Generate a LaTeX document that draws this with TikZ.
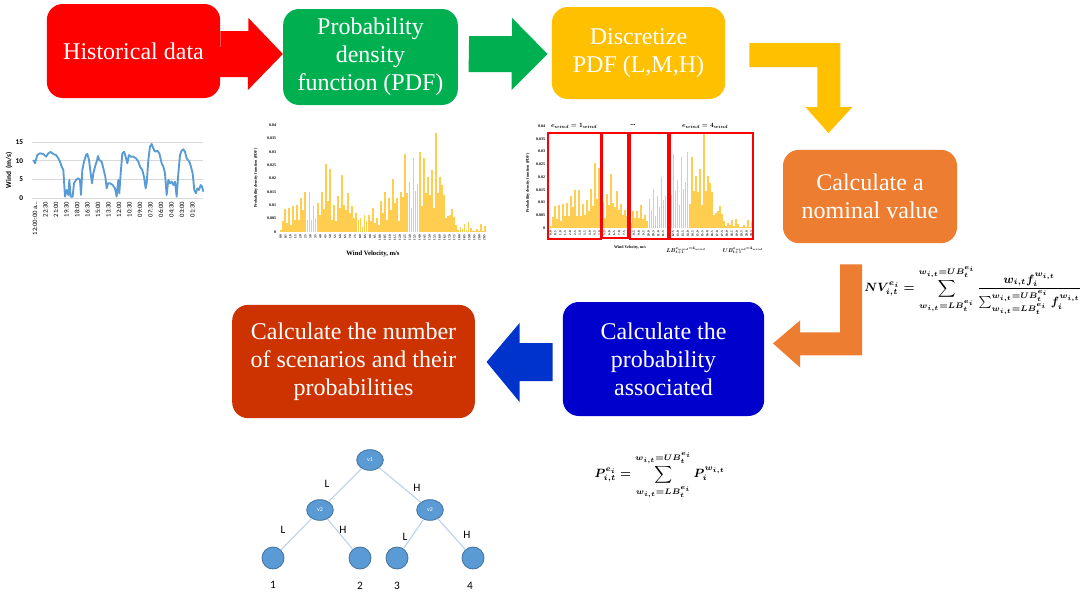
\documentclass[tikz,border=0pt]{standalone}
\usepackage{amsmath}
\usepackage{fontspec}
\setmainfont{Liberation Serif}
\newfontfamily\chartfont{Carlito}
\usetikzlibrary{calc,shapes.geometric}

\definecolor{histred}{RGB}{255,0,0}
\definecolor{pdfgreen}{RGB}{0,176,80}
\definecolor{discyellow}{RGB}{255,192,0}
\definecolor{nomorange}{RGB}{237,125,49}
\definecolor{probblue}{RGB}{0,0,204}
\definecolor{arrowblue}{RGB}{0,51,204}
\definecolor{scenbrown}{RGB}{204,51,0}
\definecolor{windblue}{RGB}{91,155,213}
\definecolor{barfill}{RGB}{255,206,80}
\definecolor{treeline}{RGB}{184,208,236}
\definecolor{treedraw}{RGB}{65,113,156}
\definecolor{gridgrey}{RGB}{217,217,217}

\tikzset{
  stepbox/.style={rounded corners=12pt, text=white, align=center, inner sep=0pt,
    font=\fontsize{18}{21}\selectfont},
  treenode/.style={ellipse, fill=windblue, draw=treedraw, line width=0.6pt,
    minimum width=20pt, minimum height=15.5pt, inner sep=0pt, text=white,
    font=\chartfont\fontsize{4.5}{5}\selectfont},
  leafnode/.style={circle, fill=windblue, draw=treedraw, line width=0.6pt,
    minimum size=16.5pt, inner sep=0pt},
  treeedge/.style={treeline, line width=0.8pt},
  treelabel/.style={font=\chartfont\fontsize{8.5}{10}\selectfont, inner sep=0pt},
  axislab/.style={font=\bfseries\fontsize{3}{3.5}\selectfont, inner sep=0.5pt},
  ticklab/.style={font=\bfseries\fontsize{2.4}{3}\selectfont, rotate=90, anchor=east, inner sep=0.4pt},
  windlab/.style={font=\chartfont\fontsize{5.5}{6}\selectfont, inner sep=0.5pt},
  pdfbar/.style={fill=barfill},
  redframe/.style={draw=red, line width=0.8pt},
  mathlab/.style={font=\boldmath, inner sep=0pt},
  formula/.style={font=\fontsize{9}{11}\selectfont\boldmath, inner sep=0pt}
}

% PDF of the wind speed (values in 1/1000)
\newcommand{\pdfdata}{0.6,4.2,8.6,3.4,9,2.7,9.6,4.6,10,4.6,
  12.7,8.4,15,4.6,15,4.6,9.6,5.2,10.9,6.5,
  15.1,8.7,25.5,11.5,23.6,4.6,10.2,4,13.4,9,
  21.2,10,8.4,14.6,7.1,9.6,5.2,7.1,4.6,5.2,
  1.9,6.5,4,6.5,4,9,3.4,5.2,2.7,11.5,
  7.1,15.1,4.6,12.7,8.4,20,10.9,12.7,4,15,
  13,29,14.6,18.7,9,27.7,15.2,18.1,29.9,9.6,
  27.7,14.6,20.5,14,23,9,37,14.6,20.5,17.7,
  14,5.2,5.9,6.5,8.6,5.6,2.7,0.6,1.9,1.1,
  3,0.6,3.6,1.5,0.2,0.2,1.1,0.2,3,0.2,2.4}

\begin{document}
\begin{tikzpicture}[x=0.75pt, y=-0.75pt]
\useasboundingbox (0,0) rectangle (1084,596);

% Pasos del proceso
\node[stepbox, fill=histred, minimum width=130pt, minimum height=70.5pt] (hist) at (133.5,51) {Historical data};
\node[stepbox, fill=pdfgreen, minimum width=131pt, minimum height=72pt] (pdf) at (370.5,57) {Probability\\density\\function (PDF)};
\node[stepbox, fill=discyellow, minimum width=130pt, minimum height=69pt] (disc) at (638.5,53) {Discretize\\PDF (L,M,H)};
\node[stepbox, fill=nomorange, minimum width=130.5pt, minimum height=70pt] (nominal) at (870,196.5) {Calculate a\\nominal value};
\node[stepbox, fill=probblue, minimum width=151pt, minimum height=85.5pt] (prob) at (663.5,359) {Calculate the\\probability\\associated};
\node[stepbox, fill=scenbrown, minimum width=182pt, minimum height=85pt] (scen) at (353.5,361.5) {Calculate the number\\of scenarios and their\\probabilities};

% Flechas de bloque
\coordinate (toprow) at (0,54);
\fill[histred] (hist.east |- toprow) ++(0,-23) -- ++(28,0) -- ++(0,-13) -- (pdf.west |- toprow)
  -- ++(-35,36) -- ++(0,-13) -- ++(-28,0) -- cycle;
\fill[pdfgreen] ($(pdf.east |- toprow)+(11,0)$) ++(0,-18) -- ++(43,0) -- ++(0,-18)
  -- ($(disc.west |- toprow)+(-4,0)$) -- ++(-36,36) -- ++(0,-18) -- ++(-43,0) -- cycle;
\fill[discyellow] ($(disc.east)+(24,-10)$) -- ++(91,0) -- ++(0,64) -- ++(12,0) -- ++(-24,26)
  -- ++(-23,-26) -- ++(12,0) -- ++(0,-40) -- ++(-68,0) -- cycle;
\fill[nomorange] ($(nominal.south)+(-30,21)$) -- ++(22,0) -- ++(0,91) -- ++(-62,0) -- ++(0,12)
  -- ++(-27,-24) -- ++(27,-23) -- ++(0,12) -- ++(40,0) -- cycle;
\fill[arrowblue] ($(prob.west)+(-10,-16)$) -- ++(-33,0) -- ++(0,-20) -- ++(-33,39)
  -- ++(33,40) -- ++(0,-21) -- ++(33,0) -- cycle;

% Serie de viento (datos historicos)
\foreach \v [count=\k from 0] in {0,5,10,15} {
  \draw[gridgrey, line width=0.4pt] (32,{198-\k*18.67}) -- (203,{198-\k*18.67});
  \node[windlab, anchor=east] (wy\k) at (24,{198-\k*18.67}) {\bfseries\v};
}
\node[windlab, rotate=90] (wtitle) at (9,170) {\bfseries Wind\ \ (m/s)};
\foreach \t [count=\k from 0] in {12:00:00 a\dots,22:30,21:00,19:30,18:00,16:30,15:00,13:30,
    12:00,10:30,09:00,07:30,06:00,04:30,03:00,01:30} {
  \node[windlab, font=\chartfont\fontsize{5}{6}\selectfont, rotate=90, anchor=east] (wx\k) at ({35+\k*10.5},201) {\t};
}
\begin{scope}[shift={(0,130)}, scale=1/3]
\draw[windblue, line width=1.4pt, line join=round] (100,90) -- (105,100) -- (112,75) -- (120,70) -- (130,72)
  -- (138,80) -- (145,70) -- (152,66) -- (160,72) -- (168,75) -- (175,85) -- (180,95) -- (185,110)
  -- (190,120) -- (195,200) -- (200,180) -- (205,195) -- (208,150) -- (212,200) -- (218,200)
  -- (222,160) -- (228,150) -- (235,145) -- (240,150) -- (243,195) -- (247,120) -- (252,95)
  -- (258,75) -- (262,72) -- (267,90) -- (272,130) -- (276,160) -- (280,130) -- (285,110)
  -- (290,95) -- (294,78) -- (298,90) -- (305,95) -- (310,115) -- (316,140) -- (320,175)
  -- (324,160) -- (330,160) -- (338,165) -- (345,175) -- (350,200) -- (355,150) -- (358,190)
  -- (362,130) -- (367,70) -- (372,65) -- (377,80) -- (382,100) -- (387,75) -- (392,80)
  -- (400,80) -- (408,85) -- (415,95) -- (420,110) -- (427,120) -- (432,140) -- (437,175)
  -- (440,160) -- (445,90) -- (450,50) -- (455,42) -- (460,55) -- (465,65) -- (472,62)
  -- (478,70) -- (485,100) -- (490,110) -- (495,130) -- (500,195) -- (505,150) -- (510,160)
  -- (515,155) -- (520,165) -- (525,155) -- (530,200) -- (535,130) -- (540,75) -- (545,62)
  -- (550,58) -- (555,65) -- (560,85) -- (568,95) -- (573,110) -- (578,130) -- (583,180)
  -- (588,190) -- (592,175) -- (597,180) -- (602,165) -- (606,170) -- (610,185);
\end{scope}

% Histograma PDF
\foreach \v [count=\k from 0] in {0,0.005,0.01,0.015,0.02,0.025,0.03,0.035,0.04}
  \node[axislab, anchor=east] (py\k) at (277,{232-\k*13.375}) {\v};
\node[axislab, rotate=90] (ptitle) at (256,178) {Probability density function (PDF)};
\foreach \h [count=\i from 0] in \pdfdata
  \fill[pdfbar] ({280+\i*2.04},232) rectangle ++(1.8,-\h*2.675);
\foreach \k in {0,...,41} {
  \pgfmathsetmacro\vel{\k*0.5}
  \node[ticklab] (px\k) at ({280.5+\k*4.97},234) {\vel};
}
\node[font=\bfseries\fontsize{5}{6}\selectfont, inner sep=0pt] (pxtitle) at (373,254) {Wind Velocity, m/s};

% PDF discretizada
\foreach \v [count=\k from 0] in {0,0.005,0.01,0.015,0.02,0.025,0.03,0.035,0.04}
  \node[axislab, anchor=east] (dy\k) at (546,{228-\k*12.75}) {\v};
\node[axislab, rotate=90] (dtitle) at (528,183) {Probability density function (PDF)};
\foreach \h [count=\i from 0] in \pdfdata
  \fill[pdfbar] ({550+\i*2.01},228) rectangle ++(1.8,-\h*2.55);
\foreach \k in {0,...,41} {
  \pgfmathsetmacro\vel{\k*0.5}
  \node[ticklab] (dx\k) at ({550.5+\k*4.9},230.5) {\vel};
}
\draw[redframe] (548,133) rectangle (601,239);
\draw[redframe] (602,133) rectangle (628,238);
\draw[redframe] (630,133) rectangle (668,239);
\draw[redframe] (670,133) rectangle (753,239);
\node[mathlab] (dlow) at (574,126) {\scalebox{0.5}{$e_{wind}=1_{wind}$}};
\node[font=\bfseries\fontsize{5.5}{6}\selectfont, inner sep=0pt] (ddots) at (633,125) {...};
\node[mathlab] (dhigh) at (705,126) {\scalebox{0.5}{$e_{wind}=4_{wind}$}};
\node[font=\bfseries\fontsize{3}{4}\selectfont, inner sep=0pt] (dxtitle) at (630,248) {Wind Velocity, m/s};
\node[mathlab] (dlb) at (686,251) {\scalebox{0.42}{$LB_{t+1}^{e_{wind}=4_{wind}}$}};
\node[mathlab] (dub) at (743,251) {\scalebox{0.42}{$UB_{t+1}^{e_{wind}=4_{wind}}$}};

% Formulas
\node[formula] (nvform) at (973,290) {$NV_{i,t}^{e_i} = \displaystyle\sum_{w_{i,t}=LB_t^{e_i}}^{w_{i,t}=UB_t^{e_i}}
  \frac{w_{i,t}f_i^{w_{i,t}}}{\sum_{w_{i,t}=LB_t^{e_i}}^{w_{i,t}=UB_t^{e_i}} f_i^{w_{i,t}}}$};
\node[formula] (pform) at (660,475) {$P_{i,t}^{e_i} = \displaystyle\sum_{w_{i,t}=LB_t^{e_i}}^{w_{i,t}=UB_t^{e_i}} P_i^{w_{i,t}}$};

% Arbol de escenarios
\node[treenode] (v1) at (370,460) {v1};
\node[treenode] (v2l) at (320,510) {v2};
\node[treenode] (v2r) at (430,510) {v2};
\node[leafnode] (s1) at (273,558) {};
\node[leafnode] (s2) at (360,558) {};
\node[leafnode] (s3) at (397,558) {};
\node[leafnode] (s4) at (473,558) {};
\draw[treeedge] (v1) -- (v2l);
\draw[treeedge] (v1) -- (v2r);
\draw[treeedge] (v2l) -- (s1);
\draw[treeedge] (v2l) -- (s2);
\draw[treeedge] (v2r) -- (s3);
\draw[treeedge] (v2r) -- (s4);
\node[treelabel] (l1) at (327,484) {L};
\node[treelabel] (h1) at (417,488) {H};
\node[treelabel] (l2) at (283,530) {L};
\node[treelabel] (h2) at (343,530) {H};
\node[treelabel] (l3) at (405,537) {L};
\node[treelabel] (h3) at (467,535) {H};
\node[treelabel] (n1) at (273,585) {1};
\node[treelabel] (n2) at (360,586) {2};
\node[treelabel] (n3) at (397,586) {3};
\node[treelabel] (n4) at (470,586) {4};

\end{tikzpicture}
\end{document}
